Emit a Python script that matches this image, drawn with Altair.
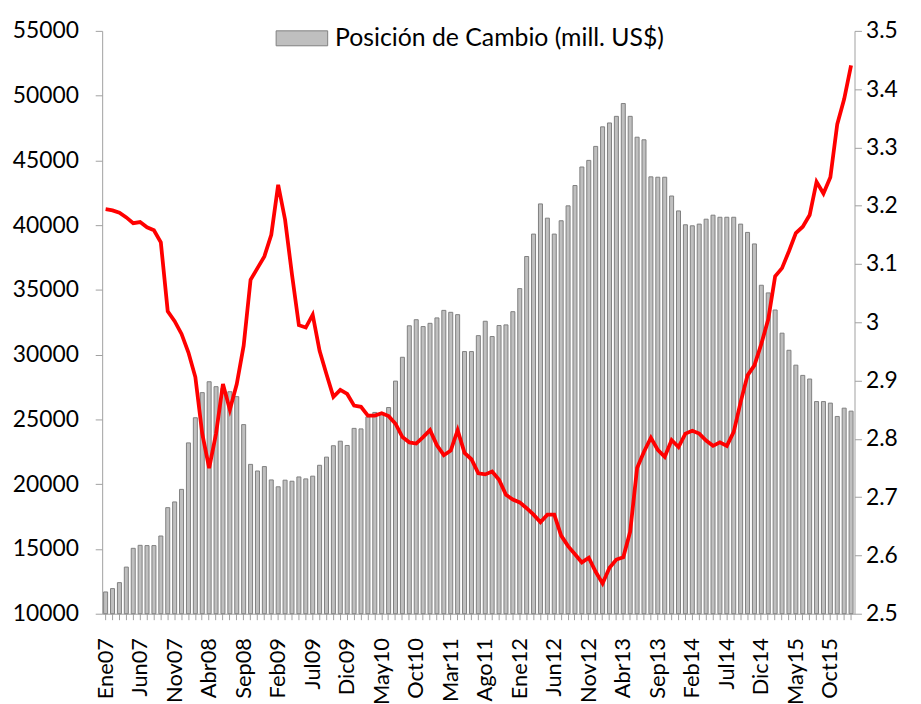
import altair as alt
import pandas as pd

month_abbr = ["Ene", "Feb", "Mar", "Abr", "May", "Jun", "Jul", "Ago", "Sep", "Oct", "Nov", "Dic"]
years = ["07", "08", "09", "10", "11", "12", "13", "14", "15", "16"]
n_months = 109

posicion = [
    11680, 11940, 12400, 13600, 15050, 15280, 15260, 15260, 16000, 18190, 18630, 19600,
    23190, 25130, 27070, 27910, 27530, 27400, 27140, 26760, 24600, 21530, 21020, 21360,
    20330, 19800, 20310, 20230, 20560, 20410, 20620, 21460, 22090, 22970, 23320, 22990,
    24310, 24270, 25200, 25540, 25500, 25920, 27960, 29800, 32230, 32700, 32170, 32420,
    32840, 33420, 33270, 33090, 30240, 30240, 31470, 32580, 31400, 32250, 32300, 33320,
    35100, 37580, 39310, 41640, 40540, 39310, 40340, 41490, 43060, 44490, 45000, 46080,
    47590, 47890, 48400, 49390, 48400, 46790, 46590, 43730, 43700, 43700, 42250, 41100,
    40030, 39950, 40080, 40460, 40770, 40610, 40610, 40610, 40080, 39440, 38550, 35360,
    34770, 33450, 31660, 30340, 29190, 28400, 28120, 26380, 26380, 26260, 25230, 25870,
    25640,
]

tipo_cambio = [
    3.194, 3.192, 3.188, 3.180, 3.170, 3.172, 3.163, 3.158, 3.137, 3.019, 3.002, 2.980,
    2.948, 2.906, 2.809, 2.750, 2.809, 2.894, 2.850, 2.894, 2.960, 3.073, 3.093, 3.113,
    3.150, 3.236, 3.176, 3.082, 2.995, 2.991, 3.013, 2.951, 2.911, 2.872, 2.884, 2.877,
    2.857, 2.855, 2.840, 2.840, 2.844, 2.839, 2.826, 2.803, 2.794, 2.792, 2.803, 2.815,
    2.789, 2.772, 2.780, 2.815, 2.776, 2.765, 2.741, 2.739, 2.744, 2.730, 2.704, 2.696,
    2.691, 2.681, 2.670, 2.657, 2.670, 2.670, 2.634, 2.616, 2.602, 2.588, 2.596, 2.572,
    2.552, 2.579, 2.593, 2.597, 2.641, 2.750, 2.778, 2.802, 2.781, 2.769, 2.798, 2.786,
    2.809, 2.814, 2.809, 2.797, 2.788, 2.794, 2.788, 2.812, 2.863, 2.909, 2.926, 2.963,
    3.005, 3.079, 3.093, 3.122, 3.153, 3.164, 3.184, 3.241, 3.221, 3.249, 3.340, 3.383,
    3.441,
]

left_ticks = [10000, 15000, 20000, 25000, 30000, 35000, 40000, 45000, 50000, 55000]
right_ticks = [2.5, 2.6, 2.7, 2.8, 2.9, 3.0, 3.1, 3.2, 3.3, 3.4, 3.5]
serie_name = "Posición de Cambio (mill. US$)"

labels = [m + y for y in years for m in month_abbr][:n_months]
shown = labels[::5]

df = pd.DataFrame({
    "mes": labels,
    "posicion": posicion,
    "tc": tipo_cambio,
    "serie": serie_name,
})

FONT = "Lato"
AXIS_GRAY = "#a0a0a0"

label_expr = "indexof([" + ",".join("'%s'" % s for s in shown) + "], datum.value) >= 0 ? datum.value : ''"

x_enc = alt.X(
    "mes:O",
    sort=labels,
    scale=alt.Scale(paddingInner=0.42, paddingOuter=0.21),
    axis=alt.Axis(
        title=None,
        labelAngle=270,
        labelExpr=label_expr,
        labelOverlap=False,
        labelFont=FONT,
        labelFontSize=22,
        labelColor="black",
        labelPadding=18,
        domainColor=AXIS_GRAY,
        tickColor=AXIS_GRAY,
        tickSize=6,
    ),
)

bars = alt.Chart(df).mark_bar(stroke="#7f7f7f", strokeWidth=1).encode(
    x=x_enc,
    y=alt.Y(
        "posicion:Q",
        scale=alt.Scale(domain=[10000, 55000], nice=False, zero=False),
        axis=alt.Axis(
            title=None,
            values=left_ticks,
            format="d",
            grid=False,
            labelFont=FONT,
            labelFontSize=23,
            labelColor="black",
            labelPadding=17,
            domainColor=AXIS_GRAY,
            tickColor=AXIS_GRAY,
            tickSize=7,
        ),
    ),
    y2=alt.datum(10000),
    color=alt.Color(
        "serie:N",
        scale=alt.Scale(range=["#bfbfbf"]),
        legend=alt.Legend(
            title=None,
            orient="none",
            legendX=175,
            legendY=-19,
            padding=0,
            symbolType="M-1,-0.29H1V0.29H-1Z",
            symbolSize=2704,
            symbolStrokeColor="#7f7f7f",
            symbolStrokeWidth=1,
            symbolOpacity=1,
            labelFont=FONT,
            labelFontSize=25,
            labelColor="black",
            labelOffset=7,
            labelLimit=600,
        ),
    ),
)

line = alt.Chart(df).mark_line(color="#ff0000", strokeWidth=3.8).encode(
    x=x_enc,
    y=alt.Y(
        "tc:Q",
        scale=alt.Scale(domain=[2.5, 3.5], nice=False, zero=False),
        axis=alt.Axis(
            title=None,
            orient="right",
            values=right_ticks,
            format=".1~f",
            grid=False,
            labelFont=FONT,
            labelFontSize=23,
            labelColor="black",
            labelPadding=4,
            domainColor=AXIS_GRAY,
            tickColor=AXIS_GRAY,
            tickSize=7,
        ),
    ),
)

chart = (
    alt.layer(bars, line)
    .resolve_scale(y="independent", color="independent")
    .properties(
        width=759,
        height=588,
        padding={"left": 95, "top": 20, "right": 59, "bottom": 88},
        autosize=alt.AutoSizeParams(type="none"),
        background="white",
    )
    .configure_view(stroke=None)
)

chart.save("out.html", embed_options={"renderer": "svg", "actions": False})
